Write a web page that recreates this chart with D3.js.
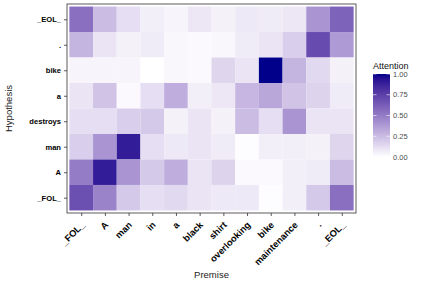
<!DOCTYPE html>
<html>
<head>
<meta charset="utf-8">
<script src="https://cdn.jsdelivr.net/npm/d3@7"></script>
<style>
  body { margin: 0; background: #fff; }
  text { font-family: "Liberation Sans", Arial, sans-serif; }
</style>
</head>
<body>
<svg id="chart" width="427" height="285"></svg>
<script>
// premise tokens (columns) and hypothesis tokens (rows, top to bottom)
const premise = ["_FOL_", "A", "man", "in", "a", "black", "shirt", "overlooking", "bike", "maintenance", ".", "_EOL_"];
const hypothesis = ["_EOL_", ".", "bike", "a", "destroys", "man", "A", "_FOL_"];

// attention weights, one row per hypothesis token
const attention = [
  [0.55, 0.25, 0.12, 0.06, 0.04, 0.09, 0.05, 0.08, 0.07, 0.09, 0.40, 0.60],
  [0.28, 0.10, 0.05, 0.07, 0.03, 0.02, 0.03, 0.07, 0.10, 0.18, 0.70, 0.38],
  [0.04, 0.04, 0.04, 0.00, 0.03, 0.02, 0.15, 0.10, 1.00, 0.28, 0.14, 0.05],
  [0.10, 0.22, 0.02, 0.12, 0.30, 0.06, 0.09, 0.27, 0.33, 0.22, 0.16, 0.07],
  [0.12, 0.12, 0.18, 0.20, 0.05, 0.10, 0.05, 0.25, 0.12, 0.40, 0.10, 0.10],
  [0.18, 0.40, 0.90, 0.12, 0.08, 0.10, 0.07, 0.01, 0.06, 0.06, 0.05, 0.15],
  [0.50, 0.90, 0.40, 0.20, 0.30, 0.10, 0.16, 0.02, 0.02, 0.06, 0.07, 0.25],
  [0.68, 0.47, 0.20, 0.12, 0.14, 0.10, 0.08, 0.08, 0.01, 0.06, 0.20, 0.55]
];
const legendTicks = [0, 0.25, 0.5, 0.75, 1];

const svg = d3.select("#chart");

// panel box
const panel = {left: 67, right: 356, top: 4, bottom: 213};

// ggplot style discrete scale: 0.6 unit padding on each side
const xStep = (panel.right - panel.left) / (premise.length - 1 + 1.2);
const yStep = (panel.bottom - panel.top) / (hypothesis.length - 1 + 1.2);

const x = d3.scalePoint().domain(premise)
    .range([panel.left + 0.6 * xStep, panel.right - 0.6 * xStep]);
const y = d3.scalePoint().domain(hypothesis)
    .range([panel.top + 0.6 * yStep, panel.bottom - 0.6 * yStep]);

const color = d3.scaleLinear().domain([0, 1])
    .range(["#ffffff", "#00008b"])
    .interpolate(d3.interpolateLab);

// cells
const cells = [];
attention.forEach((row, i) => row.forEach((v, j) => {
    cells.push({h: hypothesis[i], p: premise[j], v: v});
}));

svg.append("g")
  .selectAll("rect")
  .data(cells)
  .join("rect")
    .attr("x", d => x(d.p) - xStep / 2)
    .attr("y", d => y(d.h) - yStep / 2)
    .attr("width", xStep)
    .attr("height", yStep)
    .attr("fill", d => color(d.v));

// panel border
svg.append("rect")
    .attr("x", panel.left).attr("y", panel.top)
    .attr("width", panel.right - panel.left)
    .attr("height", panel.bottom - panel.top)
    .attr("fill", "none")
    .attr("stroke", "#333333")
    .attr("stroke-width", 0.8);

// x axis
const xAxis = svg.append("g")
    .attr("transform", `translate(0,${panel.bottom})`)
    .call(d3.axisBottom(x).tickSize(3).tickPadding(2));
xAxis.select(".domain").remove();
xAxis.selectAll(".tick line").attr("stroke", "#333333").attr("stroke-width", 0.8);
xAxis.selectAll(".tick text")
    .attr("fill", "#000")
    .attr("font-size", 9.3)
    .attr("font-weight", "bold")
    .attr("text-anchor", "end")
    .attr("dy", null)
    .attr("transform", "translate(-1,8) rotate(-45)")
    .attr("x", 0).attr("y", 0)
    .attr("dominant-baseline", "hanging");

// y axis
const yAxis = svg.append("g")
    .attr("transform", `translate(${panel.left},0)`)
    .call(d3.axisLeft(y).tickSize(3).tickPadding(3));
yAxis.select(".domain").remove();
yAxis.selectAll(".tick line").attr("stroke", "#333333").attr("stroke-width", 0.8);
yAxis.selectAll(".tick text")
    .attr("fill", "#000")
    .attr("font-size", 7.6)
    .attr("font-weight", "bold");

// axis titles
svg.append("text")
    .attr("x", (panel.left + panel.right) / 2).attr("y", 278)
    .attr("text-anchor", "middle")
    .attr("font-size", 9.5)
    .attr("font-weight", "normal")
    .attr("fill", "#222")
    .text("Premise");

svg.append("text")
    .attr("transform", `translate(12,${(panel.top + panel.bottom) / 2}) rotate(-90)`)
    .attr("text-anchor", "middle")
    .attr("font-size", 9.5)
    .attr("font-weight", "normal")
    .attr("fill", "#222")
    .text("Hypothesis");

// legend colour bar
const bar = {x: 373, w: 17, top: 74, bottom: 157};
const ly = d3.scaleLinear().domain([0, 1]).range([bar.bottom, bar.top]);

const grad = svg.append("defs").append("linearGradient")
    .attr("id", "attgrad")
    .attr("x1", 0).attr("y1", 1).attr("x2", 0).attr("y2", 0);
d3.range(0, 1.001, 0.05).forEach(t => {
    grad.append("stop").attr("offset", t).attr("stop-color", color(t));
});

svg.append("rect")
    .attr("x", bar.x).attr("y", bar.top)
    .attr("width", bar.w).attr("height", bar.bottom - bar.top)
    .attr("fill", "url(#attgrad)");

const lg = svg.append("g");
lg.selectAll("line.l")
  .data(legendTicks)
  .join("line")
    .attr("x1", bar.x).attr("x2", bar.x + 3.5)
    .attr("y1", d => ly(d)).attr("y2", d => ly(d))
    .attr("stroke", "#fff").attr("stroke-width", 0.6);
lg.selectAll("line.r")
  .data(legendTicks)
  .join("line")
    .attr("x1", bar.x + bar.w - 3.5).attr("x2", bar.x + bar.w)
    .attr("y1", d => ly(d)).attr("y2", d => ly(d))
    .attr("stroke", "#fff").attr("stroke-width", 0.6);
lg.selectAll("text")
  .data(legendTicks)
  .join("text")
    .attr("x", bar.x + bar.w + 3)
    .attr("y", d => ly(d))
    .attr("dy", "0.35em")
    .attr("font-size", 7.5)
    .attr("fill", "#4d4d4d")
    .text(d => d3.format(".2f")(d));

svg.append("text")
    .attr("x", bar.x).attr("y", 69)
    .attr("font-size", 9)
    .attr("fill", "#111")
    .text("Attention");
</script>
</body>
</html>
